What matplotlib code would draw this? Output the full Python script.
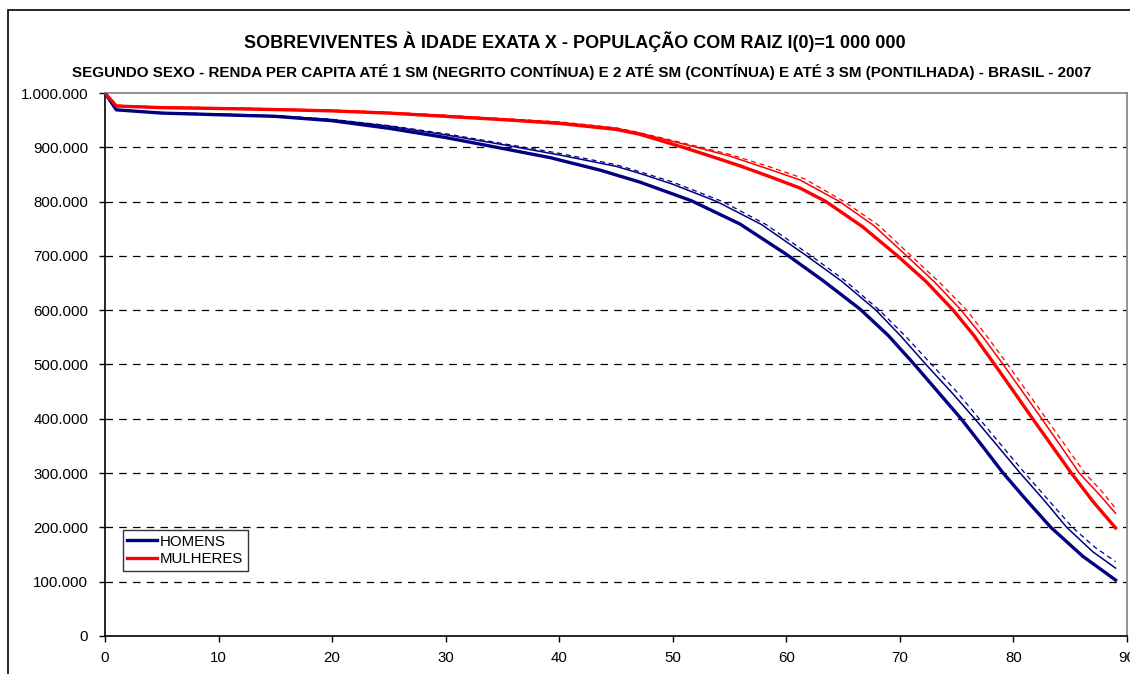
import matplotlib.pyplot as plt
from matplotlib.patches import Rectangle

plt.rcParams['font.family'] = ['Liberation Sans', 'DejaVu Sans']

# idades (anos) e sobreviventes (milhares) lidos do grafico
# homens: renda ate 1 SM (negrito), ate 2 SM (continua), ate 3 SM (pontilhada)
idades_h1 = [0, 1, 5, 10, 15, 20, 25, 30, 34.5, 39.2, 43.6, 47.1, 51.6, 55.9, 60.0, 63.2,
             66.5, 69.0, 71.2, 73.3, 75.4, 77.3, 79.1, 81.2, 83.3, 86.1, 89]
homens_1sm = [1000, 969, 963, 960, 957, 949, 935, 918, 900, 881, 858, 836, 802, 759, 703, 655,
              602, 553, 502, 451, 400, 349, 300, 249, 200, 147, 103]

idades_h2 = [0, 1, 5, 10, 15, 20, 25, 30, 35, 40, 45, 47.1, 50, 53.9, 57.8, 61.8, 64.9, 67.9,
             70.1, 72.3, 74.5, 76.6, 78.6, 80.6, 82.7, 84.7, 87, 89]
homens_2sm = [1000, 969, 963.5, 961, 958, 951, 939, 923, 905, 886, 865, 852, 832, 800, 758, 700,
              653, 600, 552, 500, 450, 400, 350, 300, 250, 200, 155, 125]

idades_h3 = [0, 1, 5, 10, 15, 20, 25, 30, 35, 40, 45, 47.1, 50, 54.4, 58.2, 62.2, 65.2, 68.2,
             70.5, 72.8, 75, 77, 79, 81, 83.1, 85.2, 87.2, 89]
homens_3sm = [1000, 969.5, 964, 961.5, 958.5, 951.5, 940, 925, 907, 889, 868, 855, 836, 800, 758,
              700, 654, 600, 552, 500, 450, 400, 350, 300, 250, 200, 163, 137]

# mulheres
idades_m1 = [0, 1, 5, 10, 15, 20, 25, 30, 35, 40, 45, 47.1, 50.9, 53, 55.9, 58.8, 61.2, 63.5,
             66.7, 69.8, 72.3, 74.7, 76.5, 78.35, 80, 81.7, 83.4, 85.1, 87, 89]
mulheres_1sm = [1000, 976, 973, 971.5, 969.5, 967, 963, 957, 951, 944, 933, 924, 900, 886, 866,
                844, 825, 800, 754, 700, 653, 600, 554, 500, 451, 400, 350, 300, 248, 199]

idades_m2 = [0, 1, 5, 10, 15, 20, 25, 30, 35, 40, 45, 47.1, 52.1, 55, 58, 61.2, 64.7, 67.7,
             70.6, 73.1, 75.4, 77.3, 79.1, 80.8, 82.5, 84.1, 85.8, 87.5, 89]
mulheres_2sm = [1000, 977, 974, 972.5, 970.5, 968, 964, 958.5, 952, 946, 935, 926, 900, 884, 863,
                840, 800, 756, 700, 651, 600, 551, 500, 450, 400, 352, 300, 262, 226]

idades_m3 = [0, 1, 5, 10, 15, 20, 25, 30, 35, 40, 45, 47.1, 52.5, 55, 58.4, 61.6, 65.1, 68.1,
             71.0, 73.5, 75.9, 77.7, 79.5, 81.2, 82.9, 84.6, 86.3, 87.8, 89]
mulheres_3sm = [1000, 977.5, 974.5, 973, 971, 968.5, 964.5, 959, 953, 947, 936, 927, 900, 887, 865,
                842, 800, 757, 700, 651, 600, 551, 500, 450, 400, 350, 300, 266, 235]

y_ticks = [0, 100000, 200000, 300000, 400000, 500000, 600000, 700000, 800000, 900000, 1000000]
x_ticks = [0, 10, 20, 30, 40, 50, 60, 70, 80, 90]

azul = '#000080'
vermelho = '#FF0000'

fig = plt.figure(figsize=(11.3, 6.74), dpi=100)
ax = fig.add_axes([0.0929, 0.0564, 0.9044, 0.8056])

# moldura externa do grafico
fig.patches.append(Rectangle((8 / 1130, -0.05), 1.1, 1 - 10 / 674 + 0.05, transform=fig.transFigure,
                             fill=False, edgecolor='black', linewidth=1.2))

# linhas de grade tracejadas
for v in y_ticks[1:-1]:
    ax.axhline(v, color='black', linewidth=0.9, linestyle=(0, (6, 5)), zorder=1)


def mil(vals):
    return [v * 1000 for v in vals]


ax.plot(idades_h3, mil(homens_3sm), color=azul, linewidth=0.9, linestyle=(0, (4, 3)), zorder=3)
ax.plot(idades_h2, mil(homens_2sm), color=azul, linewidth=1.1, zorder=3)
ax.plot(idades_h1, mil(homens_1sm), color=azul, linewidth=2.4, zorder=4, label='HOMENS')
ax.plot(idades_m3, mil(mulheres_3sm), color=vermelho, linewidth=0.9, linestyle=(0, (4, 3)), zorder=3)
ax.plot(idades_m2, mil(mulheres_2sm), color=vermelho, linewidth=1.1, zorder=3)
ax.plot(idades_m1, mil(mulheres_1sm), color=vermelho, linewidth=2.4, zorder=4, label='MULHERES')

ax.set_xlim(0, 90)
ax.set_ylim(0, 1000000)
ax.set_xticks(x_ticks)
ax.set_yticks(y_ticks)
ax.set_yticklabels([f'{v:,}'.replace(',', '.') for v in y_ticks])
ax.tick_params(labelsize=10.8, length=4, width=1, direction='out')
ax.tick_params(axis='y', pad=8)
ax.tick_params(axis='x', pad=7)

ax.spines['left'].set_color('black')
ax.spines['bottom'].set_color('black')
ax.spines['top'].set_color('#808080')
ax.spines['right'].set_color('#808080')
for s in ax.spines.values():
    s.set_linewidth(1.2)

leg = ax.legend(loc='lower left', bbox_to_anchor=(0.0176, 0.12), fontsize=10.8, frameon=True,
                fancybox=False, edgecolor='black', borderaxespad=0, borderpad=0.3,
                handlelength=2.0, handletextpad=0.15, labelspacing=0.25)
leg.get_frame().set_linewidth(1.0)

fig.text(0.509, 1 - 42 / 674, 'SOBREVIVENTES À IDADE EXATA X - POPULAÇÃO COM RAIZ l(0)=1 000 000',
         ha='center', va='center', fontsize=13, fontweight='bold')
fig.text(0.515, 1 - 72 / 674,
         'SEGUNDO SEXO - RENDA PER CAPITA ATÉ 1 SM (NEGRITO CONTÍNUA) E 2 ATÉ SM (CONTÍNUA) '
         'E ATÉ 3 SM (PONTILHADA) - BRASIL - 2007',
         ha='center', va='center', fontsize=10.9, fontweight='bold')

fig.savefig('out.png', dpi=100)
